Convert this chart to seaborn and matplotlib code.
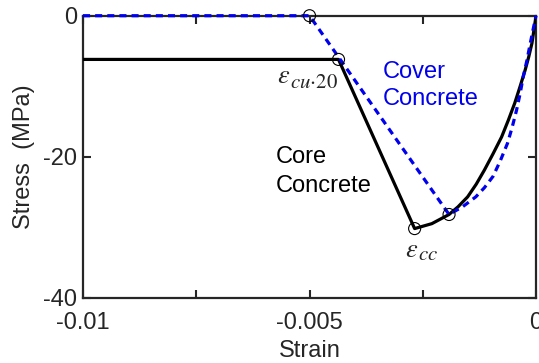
import numpy as np
import pandas as pd
import matplotlib
matplotlib.use('Agg')
import matplotlib.pyplot as plt
import seaborn as sns

# Core concrete curve
core_strain = [-0.01, -0.00436, -0.00268, -0.00230, -0.00192, -0.00172,
               -0.00151, -0.00132, -0.00114, -0.00095, -0.00076, -0.00061,
               -0.00047, -0.00035, -0.00024, -0.00016, -0.00009, 0.0]
core_stress = [-6.2, -6.2, -30.2, -29.5, -28.2, -27.1,
               -25.7, -23.9, -21.9, -19.6, -17.2, -14.8,
               -12.4, -10.0, -7.7, -5.8, -3.9, 0.0]

# Cover concrete curve
cover_strain = [-0.01, -0.005, -0.00192, -0.00162, -0.00133, -0.00114,
                -0.00095, -0.00079, -0.00063, -0.00053, -0.00043, -0.00035,
                -0.00028, -0.00020, -0.00013, -0.00006, 0.0]
cover_stress = [0.0, 0.0, -28.2, -27.1, -25.7, -24.4,
                -22.8, -20.6, -18.1, -15.9, -13.4, -11.0,
                -8.6, -6.3, -4.0, -1.8, 0.0]

# Key points marked with open circles
key_strain = [-0.005, -0.00436, -0.00268, -0.00192]
key_stress = [0.0, -6.2, -30.2, -28.2]

x_ticks = [-0.01, -0.0075, -0.005, -0.0025, 0.0]
x_labels = ['-0.01', '', '-0.005', '', '0']
y_ticks = [-40, -20, 0]
y_labels = ['-40', '-20', '0']

core_df = pd.DataFrame({'Strain': core_strain, 'Stress': core_stress})
cover_df = pd.DataFrame({'Strain': cover_strain, 'Stress': cover_stress})
key_df = pd.DataFrame({'Strain': key_strain, 'Stress': key_stress})

sns.set_style('ticks')
plt.rcParams['font.family'] = ['Liberation Sans', 'DejaVu Sans']
plt.rcParams['mathtext.fontset'] = 'stix'
plt.rcParams['axes.unicode_minus'] = False

fig = plt.figure(figsize=(5.39, 3.63), dpi=100)
ax = fig.add_axes([0.154, 0.180, 0.8405, 0.7767])

sns.lineplot(data=core_df, x='Strain', y='Stress', sort=False, estimator=None,
             color='black', lw=2.3, ax=ax, zorder=3)
sns.lineplot(data=cover_df, x='Strain', y='Stress', sort=False, estimator=None,
             color='#0000ee', lw=2.3, ax=ax, zorder=4)
ax.lines[-1].set_dashes([2.2, 1.6])
ax.lines[-1].set_clip_on(False)
for ln in ax.lines:
    ln.set_solid_joinstyle('round')
sns.scatterplot(data=key_df, x='Strain', y='Stress', marker='o', s=75,
                facecolor='none', edgecolor='black', linewidth=0.8,
                ax=ax, zorder=5, clip_on=False)

ax.set_xlim(-0.01, 0)
ax.set_ylim(-40, 0)
ax.set_xticks(x_ticks)
ax.set_xticklabels(x_labels)
ax.set_yticks(y_ticks)
ax.set_yticklabels(y_labels)
ax.tick_params(direction='in', length=6, width=1.5, labelsize=17,
               top=True, right=True)
ax.tick_params(axis='x', pad=10)
ax.tick_params(axis='y', pad=4)
for s in ax.spines.values():
    s.set_linewidth(1.6)
    s.set_zorder(2)

ax.set_xlabel('Strain', fontsize=17, labelpad=5)
ax.set_ylabel('Stress  (MPa)', fontsize=17, labelpad=6)

# annotations
ax.text(-0.00338, -8.9, 'Cover', color='#0000ee', fontsize=17, va='baseline')
ax.text(-0.00338, -12.7, 'Concrete', color='#0000ee', fontsize=17, va='baseline')
ax.text(-0.00574, -20.9, 'Core', color='black', fontsize=17, va='baseline')
ax.text(-0.00574, -25.0, 'Concrete', color='black', fontsize=17, va='baseline')

ax.text(-0.00572, -9.6, r'$\varepsilon$', fontsize=19, va='baseline')
ax.text(-0.00544, -10.3, r'$cu{\cdot}20$', fontsize=15, va='baseline')
ax.text(-0.00289, -34.2, r'$\varepsilon$', fontsize=19, va='baseline')
ax.text(-0.00261, -34.7, r'$cc$', fontsize=15, va='baseline')

fig.savefig('out.png', dpi=100)
